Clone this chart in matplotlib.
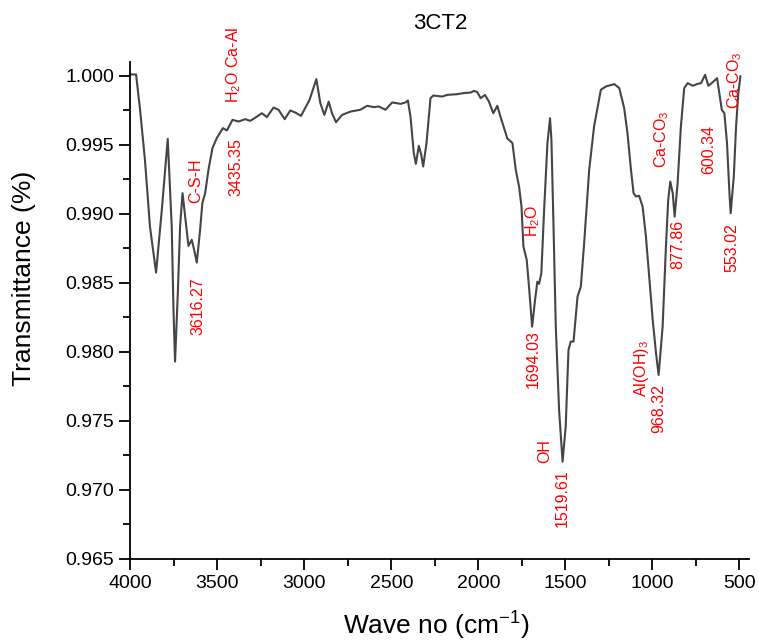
import numpy as np
import matplotlib.pyplot as plt

plt.rcParams['font.family'] = ['Liberation Sans', 'DejaVu Sans']
plt.rcParams['mathtext.fontset'] = 'custom'
plt.rcParams['mathtext.rm'] = 'Liberation Sans'
plt.rcParams['mathtext.default'] = 'regular'

# FTIR spectrum
wave = [4000, 3967, 3944, 3916, 3887, 3852, 3819, 3785, 3762, 3752, 3743, 3727,
        3714, 3700, 3685, 3666, 3647, 3633, 3618, 3599, 3586, 3570, 3551, 3528,
        3503, 3468, 3445, 3413, 3378, 3340, 3311, 3286, 3244, 3215, 3177, 3148,
        3113, 3081, 3052, 3019, 2970, 2931, 2908, 2885, 2860, 2841, 2818, 2783,
        2735, 2678, 2639, 2601, 2572, 2534, 2495, 2447, 2419, 2405, 2390, 2371,
        2359, 2342, 2328, 2317, 2298, 2275, 2259, 2207, 2179, 2121, 2083, 2044,
        2025, 2006, 1987, 1962, 1939, 1914, 1891, 1872, 1833, 1818, 1804, 1785,
        1766, 1752, 1741, 1722, 1709, 1691, 1674, 1661, 1651, 1638, 1622, 1603,
        1588, 1580, 1568, 1555, 1536, 1516, 1498, 1482, 1469, 1453, 1430, 1411,
        1392, 1363, 1335, 1296, 1267, 1219, 1190, 1162, 1143, 1123, 1108, 1095,
        1076, 1056, 1037, 1018, 998, 979, 964, 941, 922, 909, 897, 883,
        872, 855, 836, 817, 797, 768, 739, 720, 697, 678, 659, 628,
        615, 601, 586, 571, 557, 550, 532, 519, 506, 494]
trans = [1.0001, 1.0001, 0.99754, 0.99391, 0.98906, 0.98575, 0.99029, 0.99543, 0.98908, 0.98304, 0.97930, 0.98428,
         0.98908, 0.99150, 0.98980, 0.98768, 0.98812, 0.98739, 0.98647, 0.98884, 0.99078, 0.99150, 0.99319, 0.99476,
         0.99549, 0.99621, 0.99604, 0.99681, 0.99669, 0.99686, 0.99674, 0.99693, 0.99729, 0.99701, 0.99770, 0.99754,
         0.99686, 0.99749, 0.99734, 0.99710, 0.99826, 0.99976, 0.99802, 0.99717, 0.99813, 0.99729, 0.99664, 0.99717,
         0.99741, 0.99754, 0.99783, 0.99773, 0.99778, 0.99754, 0.99807, 0.99797, 0.99807, 0.99821, 0.99705, 0.99440,
         0.99362, 0.99493, 0.99428, 0.99343, 0.99512, 0.99838, 0.99857, 0.99850, 0.99862, 0.99867, 0.99875, 0.99879,
         0.99891, 0.99882, 0.99838, 0.99862, 0.99813, 0.99729, 0.99783, 0.99700, 0.99545, 0.99530, 0.99512, 0.99319,
         0.99198, 0.99053, 0.98763, 0.98667, 0.98473, 0.98183, 0.98377, 0.98509, 0.98493, 0.98570, 0.99029, 0.99512,
         0.99693, 0.99536, 0.98908, 0.98183, 0.97580, 0.97205, 0.97459, 0.98014, 0.98075, 0.98075, 0.98401, 0.98473,
         0.98788, 0.99319, 0.99633, 0.99899, 0.99923, 0.99940, 0.99911, 0.99766, 0.99585, 0.99320, 0.99150, 0.99126,
         0.99131, 0.99053, 0.98836, 0.98546, 0.98232, 0.97991, 0.97833, 0.98183, 0.98763, 0.99101, 0.99234, 0.99150,
         0.98980, 0.99222, 0.99633, 0.99911, 0.99947, 0.99928, 0.99942, 0.99947, 1.00007, 0.99928, 0.99947, 0.99983,
         0.99875, 0.99754, 0.99729, 0.99512, 0.99150, 0.99005, 0.99270, 0.99633, 0.99875, 0.99996]

# peak labels: text, wave no, transmittance
labels = ['C-S-H', '3616.27', '3435.35', 'H$_2$O Ca-Al',
          'H$_2$O', '1694.03', 'OH', '1519.61',
          'Al(OH)$_3$', '968.32', 'Ca-CO$_3$', '877.86',
          '600.34', '553.02', 'Ca-CO$_3$']
label_wave = [3622, 3610, 3392, 3404,
              1686, 1686, 1617, 1519,
              1064, 962, 944, 852,
              674, 541, 525]
label_t = [0.99243, 0.98331, 0.99342, 1.00083,
           0.98949, 0.97946, 0.97285, 0.96943,
           0.97881, 0.97590, 0.99538, 0.98775,
           0.99465, 0.98753, 0.99967]

fig = plt.figure(figsize=(7.59, 6.42), dpi=100)
ax = fig.add_axes([0.1717, 0.1293, 0.8155, 0.7741])

ax.plot(wave, trans, color='#454545', lw=1.5)

for txt, w, t in zip(labels, label_wave, label_t):
    ax.text(w, t, txt, rotation=90, color='red', fontsize=11.5,
            ha='center', va='center', clip_on=False)

ax.set_xlim(4000, 443)
ax.set_ylim(0.965, 1.001)
ax.set_xticks(np.arange(4000, 499, -500))
ax.set_xticks(np.arange(3750, 499, -500), minor=True)
ax.set_yticks(np.arange(0.965, 1.0001, 0.005))
ax.set_yticks(np.arange(0.9675, 1.0001, 0.005), minor=True)
ax.yaxis.set_major_formatter(plt.FormatStrFormatter('%.3f'))

for s in ['top', 'right']:
    ax.spines[s].set_visible(False)
for s in ['left', 'bottom']:
    ax.spines[s].set_linewidth(1.3)
ax.tick_params(which='major', direction='out', length=8, width=1.3, labelsize=14)
ax.tick_params(which='minor', direction='out', length=5, width=1.3)

ax.set_xlabel('Wave no (cm$^{-1}$)', fontsize=19)
ax.set_ylabel('Transmittance (%)', fontsize=19)
ax.xaxis.set_label_coords(0.495, -0.103)
ax.yaxis.set_label_coords(-0.152, 0.565)
ax.set_title('3CT2', fontsize=16, pad=24)

fig.savefig('out.png', dpi=100)
